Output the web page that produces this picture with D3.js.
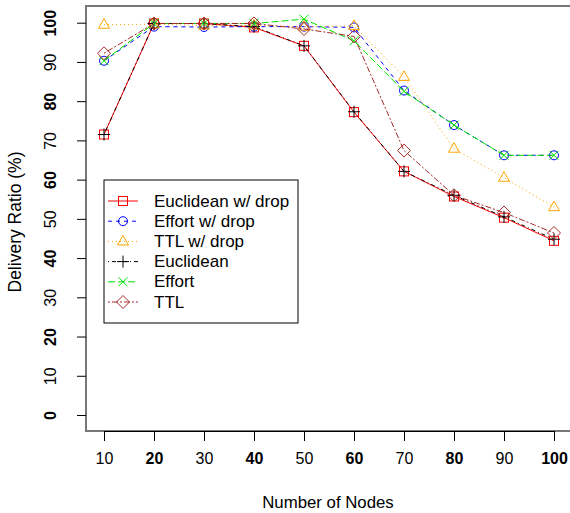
<!DOCTYPE html>
<html>
<head>
<meta charset="utf-8">
<script src="https://cdn.jsdelivr.net/npm/d3@7"></script>
<style>
  body { margin: 0; background: #fff; }
  svg { display: block; font-family: "Liberation Sans", Arial, sans-serif; }
</style>
</head>
<body>
<div id="chart"></div>
<script>
// x values (number of nodes)
const nodes = [10, 20, 30, 40, 50, 60, 70, 80, 90, 100];

// delivery ratio (%) per series
const euclidDrop = [71.5, 99.8, 99.8, 98.8, 94.1, 77.2, 62.1, 55.7, 50.3, 44.4];
const effortDrop = [90.3, 99.0, 98.9, 99.0, 99.0, 98.8, 82.7, 73.9, 66.2, 66.2];
const ttlDrop    = [99.5, 99.6, 99.3, 99.3, 99.0, 99.2, 86.2, 67.9, 60.5, 53.0];
const euclid     = [71.5, 99.8, 99.8, 99.0, 94.1, 77.3, 62.1, 56.0, 50.5, 44.8];
const effort     = [90.3, 99.8, 99.8, 99.8, 100.9, 95.4, 82.5, 73.9, 66.2, 66.2];
const ttl        = [92.2, 99.8, 99.8, 99.8, 98.4, 96.5, 67.4, 56.0, 51.6, 46.4];

const seriesNames = ["Euclidean w/ drop", "Effort w/ drop", "TTL w/ drop", "Euclidean", "Effort", "TTL"];
const xTicks = [10, 20, 30, 40, 50, 60, 70, 80, 90, 100];
const yTicks = [0, 10, 20, 30, 40, 50, 60, 70, 80, 90, 100];

const series = [
  { name: seriesNames[0], values: euclidDrop, color: "#ff0000", dash: null,      shape: "square" },
  { name: seriesNames[1], values: effortDrop, color: "#0000ff", dash: "4,4",     shape: "circle" },
  { name: seriesNames[2], values: ttlDrop,    color: "#ffa500", dash: "1,3",     shape: "triangle" },
  { name: seriesNames[3], values: euclid,     color: "#000000", dash: "1,3,4,3", shape: "plus" },
  { name: seriesNames[4], values: effort,     color: "#00e000", dash: "7,3",     shape: "cross" },
  { name: seriesNames[5], values: ttl,        color: "#a52a2a", dash: "2,2,6,2", shape: "diamond" }
];

const svgWidth = 570, svgHeight = 513;
const box = { left: 86, top: 6, right: 572, bottom: 431 };

const svg = d3.select("#chart").append("svg")
    .attr("width", svgWidth)
    .attr("height", svgHeight);

const x = d3.scaleLinear().domain([10, 100]).range([104, 554]);
const y = d3.scaleLinear().domain([0, 100]).range([415, 22.7]);

// frame
svg.append("rect")
    .attr("x", box.left).attr("y", box.top)
    .attr("width", box.right - box.left).attr("height", box.bottom - box.top)
    .attr("fill", "none").attr("stroke", "#777").attr("stroke-width", 2);

// axes
const xAxis = svg.append("g")
    .attr("transform", `translate(0,${box.bottom})`)
    .call(d3.axisBottom(x).tickValues(xTicks).tickSize(10).tickPadding(12).tickSizeOuter(0));
xAxis.select(".domain").attr("stroke", "#000");
xAxis.selectAll("text")
    .attr("font-size", 16).attr("fill", "#000")
    .attr("font-weight", (d, i) => i % 2 ? "bold" : "normal");

const yAxis = svg.append("g")
    .attr("transform", `translate(${box.left},0)`)
    .call(d3.axisLeft(y).tickValues(yTicks).tickSize(9).tickSizeOuter(0).tickFormat(d3.format("d")));
yAxis.select(".domain").remove();
yAxis.selectAll("text")
    .attr("font-size", 16).attr("fill", "#000")
    .attr("x", null).attr("dy", null)
    .attr("text-anchor", "middle")
    .attr("dominant-baseline", "central")
    .attr("transform", "translate(-36,0) rotate(-90)")
    .attr("font-weight", (d, i) => i % 2 ? "normal" : "bold");
svg.selectAll(".tick line").attr("stroke", "#000");

// titles
svg.append("text")
    .attr("x", 328).attr("y", 502)
    .attr("text-anchor", "middle").attr("dominant-baseline", "central")
    .attr("font-size", 16.8)
    .text("Number of Nodes");

svg.append("text")
    .attr("transform", "translate(15,222) rotate(-90)")
    .attr("text-anchor", "middle").attr("dominant-baseline", "central")
    .attr("font-size", 17.5)
    .text("Delivery Ratio (%)");

// symbol drawer
function drawSymbol(g, shape, color) {
  const s = 4.5;
  if (shape === "square") {
    g.append("rect").attr("x", -s).attr("y", -s).attr("width", 2 * s).attr("height", 2 * s)
      .attr("fill", "none").attr("stroke", color);
  } else if (shape === "circle") {
    g.append("circle").attr("r", 4.5).attr("fill", "none").attr("stroke", color);
  } else if (shape === "triangle") {
    g.append("path").attr("d", "M0,-6L5.5,3.6L-5.5,3.6Z").attr("fill", "none").attr("stroke", color);
  } else if (shape === "plus") {
    g.append("path").attr("d", "M-6,0H6M0,-6V6").attr("stroke", color);
  } else if (shape === "cross") {
    g.append("path").attr("d", "M-4.5,-4.5L4.5,4.5M-4.5,4.5L4.5,-4.5").attr("stroke", color);
  } else if (shape === "diamond") {
    g.append("path").attr("d", "M0,-6.5L6.5,0L0,6.5L-6.5,0Z").attr("fill", "none").attr("stroke", color);
  }
}

const line = d3.line()
    .x((d, i) => x(nodes[i]))
    .y(d => y(d));

const plot = svg.append("g");
series.forEach(s => {
  plot.append("path")
      .datum(s.values)
      .attr("fill", "none")
      .attr("stroke", s.color)
      .attr("stroke-width", 1)
      .attr("stroke-dasharray", s.dash)
      .attr("d", line);
  s.values.forEach((v, i) => {
    const g = plot.append("g").attr("transform", `translate(${x(nodes[i])},${y(v)})`);
    drawSymbol(g, s.shape, s.color);
  });
});

// legend
const legend = svg.append("g").attr("transform", "translate(104,180)");
legend.append("rect")
    .attr("width", 194).attr("height", 143)
    .attr("fill", "#fff").attr("stroke", "#000");
series.forEach((s, i) => {
  const row = legend.append("g").attr("transform", `translate(0,${21 + i * 20.2})`);
  row.append("line")
      .attr("x1", 4).attr("x2", 34)
      .attr("stroke", s.color).attr("stroke-dasharray", s.dash);
  drawSymbol(row.append("g").attr("transform", "translate(19,0)"), s.shape, s.color);
  row.append("text")
      .attr("x", 50).attr("dominant-baseline", "central")
      .attr("font-size", 17)
      .text(s.name);
});
</script>
</body>
</html>
